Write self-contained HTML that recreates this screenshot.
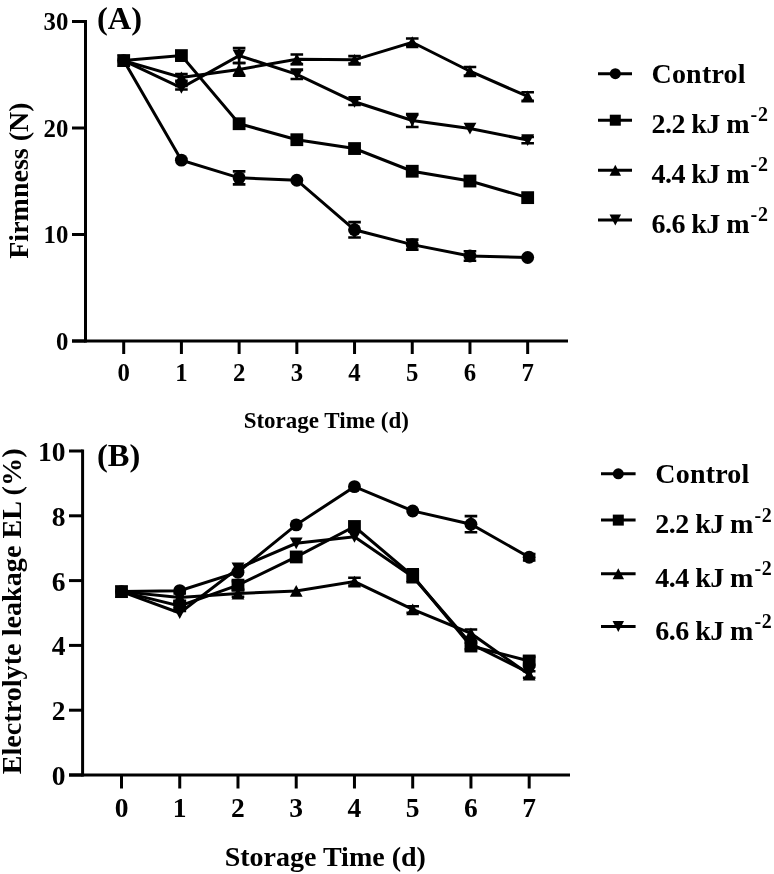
<!DOCTYPE html>
<html><head><meta charset="utf-8"><style>
html,body{margin:0;padding:0;background:#fff;overflow:hidden;}
svg{display:block;filter:grayscale(100%);}
text{font-family:"Liberation Serif", serif;font-weight:bold;fill:#000;}
</style></head><body>
<svg width="774" height="874" viewBox="0 0 774 874">
<rect width="774" height="874" fill="#fff"/>
<path d="M85.5 20V342.5" stroke="#000" stroke-width="3" fill="none"/>
<path d="M72 341H568" stroke="#000" stroke-width="3" fill="none"/>
<path d="M72 341H85.5" stroke="#000" stroke-width="3" fill="none"/>
<text x="68.3" y="349.9" text-anchor="end" font-size="24.8">0</text>
<path d="M72 234.5H85.5" stroke="#000" stroke-width="3" fill="none"/>
<text x="68.3" y="243.4" text-anchor="end" font-size="24.8">10</text>
<path d="M72 128H85.5" stroke="#000" stroke-width="3" fill="none"/>
<text x="68.3" y="136.9" text-anchor="end" font-size="24.8">20</text>
<path d="M72 21.5H85.5" stroke="#000" stroke-width="3" fill="none"/>
<text x="68.3" y="30.4" text-anchor="end" font-size="24.8">30</text>
<path d="M123.7 341V354" stroke="#000" stroke-width="3" fill="none"/>
<text x="123.7" y="380.5" text-anchor="middle" font-size="24.8">0</text>
<path d="M181.41 341V354" stroke="#000" stroke-width="3" fill="none"/>
<text x="181.41" y="380.5" text-anchor="middle" font-size="24.8">1</text>
<path d="M239.12 341V354" stroke="#000" stroke-width="3" fill="none"/>
<text x="239.12" y="380.5" text-anchor="middle" font-size="24.8">2</text>
<path d="M296.83 341V354" stroke="#000" stroke-width="3" fill="none"/>
<text x="296.83" y="380.5" text-anchor="middle" font-size="24.8">3</text>
<path d="M354.54 341V354" stroke="#000" stroke-width="3" fill="none"/>
<text x="354.54" y="380.5" text-anchor="middle" font-size="24.8">4</text>
<path d="M412.25 341V354" stroke="#000" stroke-width="3" fill="none"/>
<text x="412.25" y="380.5" text-anchor="middle" font-size="24.8">5</text>
<path d="M469.96 341V354" stroke="#000" stroke-width="3" fill="none"/>
<text x="469.96" y="380.5" text-anchor="middle" font-size="24.8">6</text>
<path d="M527.67 341V354" stroke="#000" stroke-width="3" fill="none"/>
<text x="527.67" y="380.5" text-anchor="middle" font-size="24.8">7</text>
<path d="M123.7 60.59L181.41 160.16L239.12 177.84L296.83 180.19L354.54 229.81L412.25 244.62L469.96 256.01L527.67 257.5" stroke="#000" stroke-width="3" fill="none" stroke-linejoin="miter"/>
<path d="M123.7 60.59L181.41 55.58L239.12 123.74L296.83 139.72L354.54 148.55L412.25 171.24L469.96 181.04L527.67 197.65" stroke="#000" stroke-width="3" fill="none" stroke-linejoin="miter"/>
<path d="M123.7 60.59L181.41 77.41L239.12 69.43L296.83 59.31L354.54 59.84L412.25 42.27L469.96 71.24L527.67 96.48" stroke="#000" stroke-width="3" fill="none" stroke-linejoin="miter"/>
<path d="M123.7 60.59L181.41 87.74L239.12 55.58L296.83 74.43L354.54 101.8L412.25 120.54L469.96 128.53L527.67 140.03" stroke="#000" stroke-width="3" fill="none" stroke-linejoin="miter"/>
<path d="M239.12 171.35V184.34M232.82 171.35H245.42M232.82 184.34H245.42" stroke="#000" stroke-width="2.6" fill="none"/>
<path d="M354.54 222.15V237.48M348.24 222.15H360.84M348.24 237.48H360.84" stroke="#000" stroke-width="2.6" fill="none"/>
<path d="M412.25 239.61V249.62M405.95 239.61H418.55M405.95 249.62H418.55" stroke="#000" stroke-width="2.6" fill="none"/>
<path d="M469.96 251.22V260.81M463.66 251.22H476.26M463.66 260.81H476.26" stroke="#000" stroke-width="2.6" fill="none"/>
<circle cx="123.7" cy="60.59" r="6.45"/>
<circle cx="181.41" cy="160.16" r="6.45"/>
<circle cx="239.12" cy="177.84" r="6.45"/>
<circle cx="296.83" cy="180.19" r="6.45"/>
<circle cx="354.54" cy="229.81" r="6.45"/>
<circle cx="412.25" cy="244.62" r="6.45"/>
<circle cx="469.96" cy="256.01" r="6.45"/>
<circle cx="527.67" cy="257.5" r="6.45"/>
<rect x="117.3" y="54.19" width="12.8" height="12.8"/>
<rect x="175.01" y="49.18" width="12.8" height="12.8"/>
<rect x="232.72" y="117.34" width="12.8" height="12.8"/>
<rect x="290.43" y="133.31" width="12.8" height="12.8"/>
<rect x="348.14" y="142.15" width="12.8" height="12.8"/>
<rect x="405.85" y="164.84" width="12.8" height="12.8"/>
<rect x="463.56" y="174.64" width="12.8" height="12.8"/>
<rect x="521.27" y="191.25" width="12.8" height="12.8"/>
<path d="M181.41 74.11V80.71M175.11 74.11H187.71M175.11 80.71H187.71" stroke="#000" stroke-width="2.6" fill="none"/>
<path d="M239.12 63.04V75.82M232.82 63.04H245.42M232.82 75.82H245.42" stroke="#000" stroke-width="2.6" fill="none"/>
<path d="M296.83 54.52V64.1M290.53 54.52H303.13M290.53 64.1H303.13" stroke="#000" stroke-width="2.6" fill="none"/>
<path d="M354.54 56.11V63.57M348.24 56.11H360.84M348.24 63.57H360.84" stroke="#000" stroke-width="2.6" fill="none"/>
<path d="M412.25 38.54V45.99M405.95 38.54H418.55M405.95 45.99H418.55" stroke="#000" stroke-width="2.6" fill="none"/>
<path d="M469.96 66.98V75.5M463.66 66.98H476.26M463.66 75.5H476.26" stroke="#000" stroke-width="2.6" fill="none"/>
<path d="M527.67 92.22V100.74M521.37 92.22H533.97M521.37 100.74H533.97" stroke="#000" stroke-width="2.6" fill="none"/>
<path d="M123.7 54.69L130.1 66.49L117.3 66.49Z"/>
<path d="M181.41 71.51L187.81 83.31L175.01 83.31Z"/>
<path d="M239.12 63.53L245.52 75.33L232.72 75.33Z"/>
<path d="M296.83 53.41L303.23 65.21L290.43 65.21Z"/>
<path d="M354.54 53.94L360.94 65.74L348.14 65.74Z"/>
<path d="M412.25 36.37L418.65 48.17L405.85 48.17Z"/>
<path d="M469.96 65.34L476.36 77.14L463.56 77.14Z"/>
<path d="M527.67 90.58L534.07 102.38L521.27 102.38Z"/>
<path d="M181.41 86.04V89.45M175.11 86.04H187.71M175.11 89.45H187.71" stroke="#000" stroke-width="2.6" fill="none"/>
<path d="M239.12 48.12V63.03M232.82 48.12H245.42M232.82 63.03H245.42" stroke="#000" stroke-width="2.6" fill="none"/>
<path d="M296.83 69.85V79.01M290.53 69.85H303.13M290.53 79.01H303.13" stroke="#000" stroke-width="2.6" fill="none"/>
<path d="M354.54 98.61V105M348.24 98.61H360.84M348.24 105H360.84" stroke="#000" stroke-width="2.6" fill="none"/>
<path d="M412.25 114.15V126.93M405.95 114.15H418.55M405.95 126.93H418.55" stroke="#000" stroke-width="2.6" fill="none"/>
<path d="M527.67 136.84V143.23M521.37 136.84H533.97M521.37 143.23H533.97" stroke="#000" stroke-width="2.6" fill="none"/>
<path d="M123.7 66.49L130.1 54.69L117.3 54.69Z"/>
<path d="M181.41 93.64L187.81 81.84L175.01 81.84Z"/>
<path d="M239.12 61.48L245.52 49.68L232.72 49.68Z"/>
<path d="M296.83 80.33L303.23 68.53L290.43 68.53Z"/>
<path d="M354.54 107.7L360.94 95.9L348.14 95.9Z"/>
<path d="M412.25 126.44L418.65 114.64L405.85 114.64Z"/>
<path d="M469.96 134.43L476.36 122.63L463.56 122.63Z"/>
<path d="M527.67 145.93L534.07 134.13L521.27 134.13Z"/>
<path d="M598 73.7H632" stroke="#000" stroke-width="3" fill="none"/>
<circle cx="615.3" cy="73.7" r="5.5"/>
<text x="651.5" y="83" font-size="28" letter-spacing="0.2">Control</text>
<path d="M598 120.2H632" stroke="#000" stroke-width="3" fill="none"/>
<rect x="609.8" y="114.7" width="11" height="11"/>
<text x="651.5" y="132.5" font-size="28" letter-spacing="-0.54">2.2 kJ m<tspan dy="-11.6" dx="1.5" font-size="20" letter-spacing="0.8">-2</tspan></text>
<path d="M598 170.2H632" stroke="#000" stroke-width="3" fill="none"/>
<path d="M615.3 164.7L621.05 175.7L609.55 175.7Z"/>
<text x="651.5" y="182.7" font-size="28" letter-spacing="-0.54">4.4 kJ m<tspan dy="-11.6" dx="1.5" font-size="20" letter-spacing="0.8">-2</tspan></text>
<path d="M598 220.1H632" stroke="#000" stroke-width="3" fill="none"/>
<path d="M615.3 225.6L621.05 214.6L609.55 214.6Z"/>
<text x="651.5" y="233" font-size="28" letter-spacing="-0.54">6.6 kJ m<tspan dy="-11.6" dx="1.5" font-size="20" letter-spacing="0.8">-2</tspan></text>
<text x="97" y="28.7" font-size="32.5">(A)</text>
<text x="326.3" y="427.7" font-size="23" text-anchor="middle">Storage Time (d)</text>
<text transform="translate(27.8 180.6) rotate(-90)" font-size="28" text-anchor="middle">Firmness (N)</text>
<path d="M82.6 449.5V776.5" stroke="#000" stroke-width="3" fill="none"/>
<path d="M69 775H570" stroke="#000" stroke-width="3" fill="none"/>
<path d="M69 775H82.6" stroke="#000" stroke-width="3" fill="none"/>
<text x="65.5" y="785" text-anchor="end" font-size="27.5">0</text>
<path d="M69 710.2H82.6" stroke="#000" stroke-width="3" fill="none"/>
<text x="65.5" y="720.2" text-anchor="end" font-size="27.5">2</text>
<path d="M69 645.4H82.6" stroke="#000" stroke-width="3" fill="none"/>
<text x="65.5" y="655.4" text-anchor="end" font-size="27.5">4</text>
<path d="M69 580.6H82.6" stroke="#000" stroke-width="3" fill="none"/>
<text x="65.5" y="590.6" text-anchor="end" font-size="27.5">6</text>
<path d="M69 515.8H82.6" stroke="#000" stroke-width="3" fill="none"/>
<text x="65.5" y="525.8" text-anchor="end" font-size="27.5">8</text>
<path d="M69 451H82.6" stroke="#000" stroke-width="3" fill="none"/>
<text x="65.5" y="461" text-anchor="end" font-size="27.5">10</text>
<path d="M121.5 775V788.5" stroke="#000" stroke-width="3" fill="none"/>
<text x="121.5" y="817" text-anchor="middle" font-size="27.5">0</text>
<path d="M179.74 775V788.5" stroke="#000" stroke-width="3" fill="none"/>
<text x="179.74" y="817" text-anchor="middle" font-size="27.5">1</text>
<path d="M237.98 775V788.5" stroke="#000" stroke-width="3" fill="none"/>
<text x="237.98" y="817" text-anchor="middle" font-size="27.5">2</text>
<path d="M296.22 775V788.5" stroke="#000" stroke-width="3" fill="none"/>
<text x="296.22" y="817" text-anchor="middle" font-size="27.5">3</text>
<path d="M354.46 775V788.5" stroke="#000" stroke-width="3" fill="none"/>
<text x="354.46" y="817" text-anchor="middle" font-size="27.5">4</text>
<path d="M412.7 775V788.5" stroke="#000" stroke-width="3" fill="none"/>
<text x="412.7" y="817" text-anchor="middle" font-size="27.5">5</text>
<path d="M470.94 775V788.5" stroke="#000" stroke-width="3" fill="none"/>
<text x="470.94" y="817" text-anchor="middle" font-size="27.5">6</text>
<path d="M529.18 775V788.5" stroke="#000" stroke-width="3" fill="none"/>
<text x="529.18" y="817" text-anchor="middle" font-size="27.5">7</text>
<path d="M121.5 591.62L179.74 590.64L237.98 572.18L296.22 524.87L354.46 486.64L412.7 510.94L470.94 524.22L529.18 557.27" stroke="#000" stroke-width="3" fill="none" stroke-linejoin="miter"/>
<path d="M121.5 591.62L179.74 605.87L237.98 585.14L296.22 556.95L354.46 526.49L412.7 575.74L470.94 646.05L529.18 660.95" stroke="#000" stroke-width="3" fill="none" stroke-linejoin="miter"/>
<path d="M121.5 591.62L179.74 597.45L237.98 593.56L296.22 590.97L354.46 581.57L412.7 609.44L470.94 633.41L529.18 674.56" stroke="#000" stroke-width="3" fill="none" stroke-linejoin="miter"/>
<path d="M121.5 591.62L179.74 613L237.98 568.29L296.22 543.34L354.46 536.86L412.7 576.71L470.94 643.78L529.18 672.94" stroke="#000" stroke-width="3" fill="none" stroke-linejoin="miter"/>
<path d="M470.94 516.12V532.32M464.64 516.12H477.24M464.64 532.32H477.24" stroke="#000" stroke-width="2.6" fill="none"/>
<path d="M529.18 554.03V560.51M522.88 554.03H535.48M522.88 560.51H535.48" stroke="#000" stroke-width="2.6" fill="none"/>
<circle cx="121.5" cy="591.62" r="6.45"/>
<circle cx="179.74" cy="590.64" r="6.45"/>
<circle cx="237.98" cy="572.18" r="6.45"/>
<circle cx="296.22" cy="524.87" r="6.45"/>
<circle cx="354.46" cy="486.64" r="6.45"/>
<circle cx="412.7" cy="510.94" r="6.45"/>
<circle cx="470.94" cy="524.22" r="6.45"/>
<circle cx="529.18" cy="557.27" r="6.45"/>
<path d="M179.74 601.98V609.76M173.44 601.98H186.04M173.44 609.76H186.04" stroke="#000" stroke-width="2.6" fill="none"/>
<path d="M237.98 581.25V589.02M231.68 581.25H244.28M231.68 589.02H244.28" stroke="#000" stroke-width="2.6" fill="none"/>
<path d="M412.7 569.26V582.22M406.4 569.26H419M406.4 582.22H419" stroke="#000" stroke-width="2.6" fill="none"/>
<path d="M470.94 642.81V649.29M464.64 642.81H477.24M464.64 649.29H477.24" stroke="#000" stroke-width="2.6" fill="none"/>
<path d="M529.18 657.06V664.84M522.88 657.06H535.48M522.88 664.84H535.48" stroke="#000" stroke-width="2.6" fill="none"/>
<rect x="115.1" y="585.22" width="12.8" height="12.8"/>
<rect x="173.34" y="599.47" width="12.8" height="12.8"/>
<rect x="231.58" y="578.74" width="12.8" height="12.8"/>
<rect x="289.82" y="550.55" width="12.8" height="12.8"/>
<rect x="348.06" y="520.09" width="12.8" height="12.8"/>
<rect x="406.3" y="569.34" width="12.8" height="12.8"/>
<rect x="464.54" y="639.65" width="12.8" height="12.8"/>
<rect x="522.78" y="654.55" width="12.8" height="12.8"/>
<path d="M179.74 593.56V601.34M173.44 593.56H186.04M173.44 601.34H186.04" stroke="#000" stroke-width="2.6" fill="none"/>
<path d="M237.98 590.32V596.8M231.68 590.32H244.28M231.68 596.8H244.28" stroke="#000" stroke-width="2.6" fill="none"/>
<path d="M354.46 577.68V585.46M348.16 577.68H360.76M348.16 585.46H360.76" stroke="#000" stroke-width="2.6" fill="none"/>
<path d="M412.7 606.2V612.68M406.4 606.2H419M406.4 612.68H419" stroke="#000" stroke-width="2.6" fill="none"/>
<path d="M470.94 629.52V637.3M464.64 629.52H477.24M464.64 637.3H477.24" stroke="#000" stroke-width="2.6" fill="none"/>
<path d="M529.18 671.32V677.8M522.88 671.32H535.48M522.88 677.8H535.48" stroke="#000" stroke-width="2.6" fill="none"/>
<path d="M121.5 585.72L127.9 597.52L115.1 597.52Z"/>
<path d="M179.74 591.55L186.14 603.35L173.34 603.35Z"/>
<path d="M237.98 587.66L244.38 599.46L231.58 599.46Z"/>
<path d="M296.22 585.07L302.62 596.87L289.82 596.87Z"/>
<path d="M354.46 575.67L360.86 587.47L348.06 587.47Z"/>
<path d="M412.7 603.54L419.1 615.34L406.3 615.34Z"/>
<path d="M470.94 627.51L477.34 639.31L464.54 639.31Z"/>
<path d="M529.18 668.66L535.58 680.46L522.78 680.46Z"/>
<path d="M121.5 597.52L127.9 585.72L115.1 585.72Z"/>
<path d="M179.74 618.9L186.14 607.1L173.34 607.1Z"/>
<path d="M237.98 574.19L244.38 562.39L231.58 562.39Z"/>
<path d="M296.22 549.24L302.62 537.44L289.82 537.44Z"/>
<path d="M354.46 542.76L360.86 530.96L348.06 530.96Z"/>
<path d="M412.7 582.61L419.1 570.81L406.3 570.81Z"/>
<path d="M470.94 649.68L477.34 637.88L464.54 637.88Z"/>
<path d="M529.18 678.84L535.58 667.04L522.78 667.04Z"/>
<path d="M601 473.8H635.6" stroke="#000" stroke-width="3" fill="none"/>
<circle cx="618.3" cy="473.8" r="5.5"/>
<text x="655.3" y="482.8" font-size="28" letter-spacing="0.2">Control</text>
<path d="M601 520.1H635.6" stroke="#000" stroke-width="3" fill="none"/>
<rect x="612.8" y="514.6" width="11" height="11"/>
<text x="655.3" y="533.2" font-size="28" letter-spacing="-0.54">2.2 kJ m<tspan dy="-11.6" dx="1.5" font-size="20" letter-spacing="0.8">-2</tspan></text>
<path d="M601 573.8H635.6" stroke="#000" stroke-width="3" fill="none"/>
<path d="M618.3 568.3L624.05 579.3L612.55 579.3Z"/>
<text x="655.3" y="586.8" font-size="28" letter-spacing="-0.54">4.4 kJ m<tspan dy="-11.6" dx="1.5" font-size="20" letter-spacing="0.8">-2</tspan></text>
<path d="M601 626.5H635.6" stroke="#000" stroke-width="3" fill="none"/>
<path d="M618.3 632L624.05 621L612.55 621Z"/>
<text x="655.3" y="639.9" font-size="28" letter-spacing="-0.54">6.6 kJ m<tspan dy="-11.6" dx="1.5" font-size="20" letter-spacing="0.8">-2</tspan></text>
<text x="97" y="466.2" font-size="32.5">(B)</text>
<text x="325.3" y="866" font-size="28" text-anchor="middle">Storage Time (d)</text>
<text transform="translate(21 611.4) rotate(-90)" font-size="28.2" text-anchor="middle">Electrolyte leakage EL (%)</text>
</svg>
</body></html>
